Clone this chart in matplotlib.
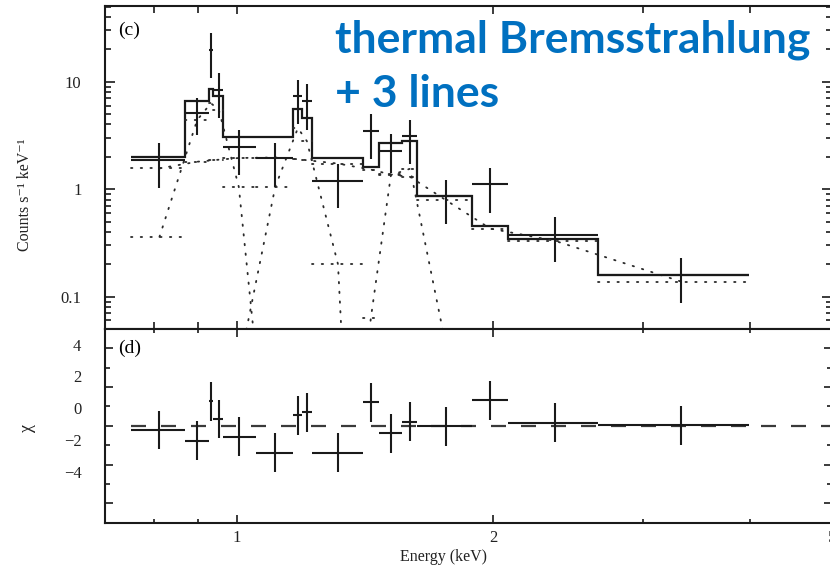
import matplotlib
matplotlib.use("Agg")
import matplotlib.pyplot as plt
from matplotlib.ticker import FixedLocator, NullFormatter

plt.rcParams["font.family"] = ["Liberation Serif", "DejaVu Serif"]
plt.rcParams["lines.scale_dashes"] = False

# grouped spectrum bins (keV)
bin_edges = [0.751, 0.868, 0.928, 0.937, 0.963, 1.052, 1.163, 1.192, 1.226,
             1.406, 1.468, 1.562, 1.629, 1.887, 2.08, 2.653, 3.996]
bin_centers = [0.811, 0.898, 0.932, 0.952, 1.005, 1.109, 1.179, 1.208, 1.314,
               1.436, 1.516, 1.597, 1.759, 1.983, 2.364, 3.323]

# observed rate (counts s^-1 keV^-1) with error range
counts = [1.86, 5.11, 19.8, 8.3, 2.47, 1.93, 7.3, 6.6, 1.19, 3.48, 2.27, 3.1,
          0.861, 1.11, 0.376, 0.159]
counts_lo = [1.015, 3.17, 10.9, 4.63, 1.35, 1.05, 4.07, 3.53, 0.662, 1.9, 1.40,
             1.71, 0.47, 0.603, 0.209, 0.088]
counts_hi = [2.66, 7.04, 28.5, 12.1, 3.58, 2.71, 10.4, 9.44, 1.73, 5.05, 3.29,
             4.44, 1.21, 1.59, 0.546, 0.227]

# model: total and components per bin
model_total = [2.0, 6.6, 8.5, 7.3, 3.08, 3.05, 5.61, 4.63, 1.95, 1.61, 2.71,
               2.81, 0.861, 0.453, 0.345, 0.159]
continuum = [1.56, 1.80, 1.85, 1.88, 1.95, 1.97, 1.90, 1.86, 1.73, 1.52, 1.37,
             1.30, 0.79, 0.43, 0.33, 0.138]
line1 = [0.36, 4.4, 6.3, 5.5, 1.05, 5e-4, 1e-6, 1e-7, 1e-7, 1e-7, 1e-7, 1e-7,
         1e-7, 1e-7, 1e-7, 1e-7]
line2 = [1e-7, 1e-7, 1e-6, 1e-6, 0.022, 1.05, 3.7, 2.8, 0.2, 2e-7, 1e-7, 1e-7,
         1e-7, 1e-7, 1e-7, 1e-7]
line3 = [1e-7, 1e-7, 1e-7, 1e-7, 1e-7, 1e-7, 1e-7, 1e-6, 1e-4, 0.063, 1.35,
         1.55, 0.035, 1e-5, 1e-7, 1e-7]

# residuals (chi)
chi = [-0.21, -0.76, 1.26, 0.35, -0.55, -1.38, 0.54, 0.69, -1.38, 1.21, -0.38,
       0.22, -0.03, 1.31, 0.17, 0.02]
chi_err = [1.0, 1.0, 1.0, 1.0, 1.0, 1.0, 1.0, 1.0, 1.0, 1.0, 1.0, 1.0, 1.0,
           1.0, 1.0, 1.0]

x_ticks = [1, 2, 5]
x_minor = [0.7, 0.8, 0.9, 3, 4]
top_ticks = [0.1, 1, 10]
top_labels = ["0.1", "1", "10"]
chi_ticks = [-4, -2, 0, 2, 4]
chi_minor = [-3, -1, 1, 3]

W, H = 830, 571
fig = plt.figure(figsize=(W / 100, H / 100), dpi=100)
ax_top = fig.add_axes([105 / W, 1 - 329 / H, 727.4 / W, 323 / H])
ax_bot = fig.add_axes([105 / W, 1 - 522.7 / H, 727.4 / W, 193.7 / H])

ink = "#1a1a1a"
dot_color = "#2a2a2a"
dot_ls = (0, (1, 6))
xerr = [[c - lo for c, lo in zip(bin_centers, bin_edges[:-1])],
        [hi - c for c, hi in zip(bin_centers, bin_edges[1:])]]

# --- spectrum panel
for comp in (continuum, line1, line2, line3):
    ax_top.hlines(comp, bin_edges[:-1], bin_edges[1:], colors=dot_color,
                  linewidths=1.3, linestyles=[dot_ls], capstyle="round")
    ax_top.plot(bin_centers, comp, color=dot_color, lw=1.3, ls=dot_ls,
                dash_capstyle="round")
ax_top.stairs(model_total, bin_edges, baseline=None, color=ink, lw=1.6)
yerr = [[c - lo for c, lo in zip(counts, counts_lo)],
        [hi - c for c, hi in zip(counts, counts_hi)]]
ax_top.errorbar(bin_centers, counts, xerr=xerr, yerr=yerr, fmt="none",
                ecolor=ink, elinewidth=1.5, capsize=0)

ax_top.set_xscale("log")
ax_top.set_yscale("log")
ax_top.set_xlim(0.7005, 5.0)
ax_top.set_ylim(0.05, 50.6)
ax_top.yaxis.set_major_locator(FixedLocator(top_ticks))
ax_top.set_yticklabels(top_labels)
ax_top.yaxis.set_minor_locator(matplotlib.ticker.LogLocator(subs=range(2, 10)))
ax_top.yaxis.set_minor_formatter(NullFormatter())
ax_top.set_xticks(x_ticks)
ax_top.set_xticks(x_minor, minor=True)
ax_top.tick_params(axis="x", which="both", labelbottom=False)
ax_top.tick_params(axis="x", which="major", length=6)
ax_top.tick_params(axis="x", which="minor", length=5)
ax_top.tick_params(axis="y", which="major", length=7, pad=17)
ax_top.tick_params(axis="y", which="minor", length=4)
ax_top.text(118, 571 - 30, "(c)", transform=None, fontsize=14, va="center")

# --- residual panel
ax_bot.plot([bin_edges[0], 5.0], [0, 0], color="#3a3a3a", lw=1.6,
            ls=(0, (10.8, 10.8)))
ax_bot.errorbar(bin_centers, chi, xerr=xerr, yerr=chi_err, fmt="none",
                ecolor=ink, elinewidth=1.5, capsize=0)
ax_bot.set_xscale("log")
ax_bot.set_xlim(0.7005, 5.0)
ax_bot.set_ylim(-5, 5)
ax_bot.set_xticks(x_ticks)
ax_bot.set_xticklabels([str(t) for t in x_ticks])
ax_bot.set_xticks(x_minor, minor=True)
ax_bot.xaxis.set_minor_formatter(NullFormatter())
ax_bot.set_yticks(chi_ticks)
ax_bot.set_yticks(chi_minor, minor=True)
ax_bot.tick_params(axis="y", which="both", labelleft=False)
ax_bot.tick_params(axis="y", which="major", length=6)
ax_bot.tick_params(axis="y", which="minor", length=3.5)
ax_bot.tick_params(axis="x", which="major", length=6, pad=5)
ax_bot.tick_params(axis="x", which="minor", length=3)

# the printed chi labels sit at a different spacing than the tick marks
sec = ax_bot.secondary_yaxis("left", functions=(lambda p: (p - 0.907) / 0.8225,
                                                lambda v: 0.8225 * v + 0.907))
sec.set_yticks(chi_ticks)
sec.tick_params(length=0, pad=17, labelsize=12, labelcolor="#222")
sec.spines["left"].set_visible(False)
ax_bot.text(118, 571 - 348, "(d)", transform=None, fontsize=14, va="center")

for ax in (ax_top, ax_bot):
    ax.tick_params(which="both", direction="in", top=True, right=True,
                   width=1.2, color=ink, labelsize=12, labelcolor="#222")
    for sp in ax.spines.values():
        sp.set_linewidth(1.5)
        sp.set_color(ink)

fig.text(25 / W, 1 - 195 / H, "Counts s\u207b\u00b9 keV\u207b\u00b9",
         rotation=90, ha="center", va="center", fontsize=11.5, color="#222")
fig.text(27 / W, 1 - 428 / H, "\u03c7", rotation=90, ha="center",
         va="center", fontsize=13, color="#222")
fig.text(443 / W, 1 - 557 / H, "Energy (keV)", ha="center", va="center",
         fontsize=11.5, color="#222")

blue = "#0070c0"
fig.text(335 / W, 1 - 52 / H, "thermal Bremsstrahlung", family="Lato",
         weight="bold", fontsize=32, color=blue, va="baseline")
fig.text(335 / W, 1 - 107 / H, "+ 3 lines", family="Lato", weight="bold",
         fontsize=32, color=blue, va="baseline")

fig.savefig("out.png", dpi=100)
